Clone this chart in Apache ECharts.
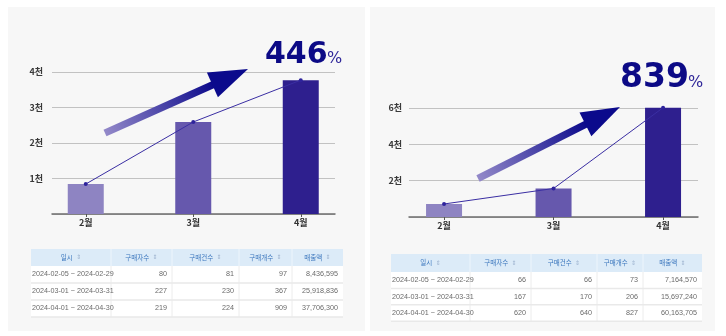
<!DOCTYPE html>
<html>
<head>
<meta charset="utf-8">
<script src="https://cdn.jsdelivr.net/npm/echarts@6/dist/echarts.min.js"></script>
<style>
  html, body { margin: 0; padding: 0; background: #ffffff; }
  #c { width: 726px; height: 336px; }
</style>
</head>
<body>
<div id="c"></div>
<script>
// ---- data ----
const months = ['2월', '3월', '4월'];
const periods = ['2024-02-05 ~ 2024-02-29', '2024-03-01 ~ 2024-03-31', '2024-04-01 ~ 2024-04-30'];
const headers = ['일시', '구매자수', '구매건수', '구매개수', '매출액'];

// first store
const buyersA = [80, 227, 219];
const ordersA = [81, 230, 224];
const itemsA = [97, 367, 909];
const salesA = [8436595, 25918836, 37706300];
const growthA = '446';
const yMaxA = 4000, yStepA = 1000;

// second store
const buyersB = [66, 167, 620];
const ordersB = [66, 170, 640];
const itemsB = [73, 206, 827];
const salesB = [7164570, 15697240, 60163705];
const growthB = '839';
const yMaxB = 6000, yStepB = 2000;

const barColors = ['#8e84c2', '#6658ad', '#2e1f8e'];

// ---- helpers ----
const KR = '"Noto Sans CJK KR", "Noto Sans", sans-serif';
const toManwon = arr => arr.map(v => v / 10000);
const fmt = v => v.toLocaleString('en-US');

function arrow(tail, tip, shaftHalf, headLen, headHalf) {
  const dx = tip[0] - tail[0], dy = tip[1] - tail[1];
  const len = Math.hypot(dx, dy);
  const u = [dx / len, dy / len], n = [-u[1], u[0]];
  const b = [tip[0] - headLen * u[0], tip[1] - headLen * u[1]];
  const be = [b[0] + 2 * u[0], b[1] + 2 * u[1]];
  const p = (o, k, m) => [o[0] + k * m[0], o[1] + k * m[1]];
  return [
    {
      type: 'polygon', z: 10,
      shape: { points: [p(tail, shaftHalf, n), p(be, shaftHalf, n), p(be, -shaftHalf, n), p(tail, -shaftHalf, n)] },
      style: {
        fill: new echarts.graphic.LinearGradient(tail[0], tail[1], b[0], b[1], [
          { offset: 0, color: '#9389c9' },
          { offset: 1, color: '#0d0b8c' }
        ], true)
      }
    },
    {
      type: 'polygon', z: 10,
      shape: { points: [tip, p(b, headHalf, n), p(b, -headHalf, n)] },
      style: { fill: '#0b0a8c' }
    }
  ];
}

function table(cols, top, headH, rowH, rows) {
  const els = [];
  const left = cols[0], right = cols[cols.length - 1];
  els.push({ type: 'rect', z: 5, shape: { x: left, y: top, width: right - left, height: headH }, style: { fill: '#dcebf8' } });
  els.push({ type: 'rect', z: 5, shape: { x: left, y: top + headH, width: right - left, height: rowH * rows.length }, style: { fill: '#ffffff' } });
  for (let i = 1; i < cols.length - 1; i++) {
    els.push({ type: 'line', z: 6, shape: { x1: cols[i], y1: top, x2: cols[i], y2: top + headH }, style: { stroke: '#edf5fc', lineWidth: 1 } });
    els.push({ type: 'line', z: 6, shape: { x1: cols[i], y1: top + headH, x2: cols[i], y2: top + headH + rowH * rows.length }, style: { stroke: '#ececec', lineWidth: 1 } });
  }
  for (let r = 1; r <= rows.length; r++) {
    const y = top + headH + rowH * r;
    els.push({ type: 'line', z: 6, shape: { x1: left, y1: y, x2: right, y2: y }, style: { stroke: '#e9e9e9', lineWidth: 1.5 } });
  }
  headers.forEach((h, i) => {
    els.push({
      type: 'text', z: 7,
      x: (cols[i] + cols[i + 1]) / 2, y: top + headH / 2,
      style: {
        text: '{t|' + h + '} {s|⇕}',
        align: 'center', verticalAlign: 'middle',
        rich: {
          t: { fontFamily: KR, fontSize: 6.5, fill: '#3a76bd' },
          s: { fontFamily: 'DejaVu Sans', fontSize: 6, fill: '#9db3cf' }
        }
      }
    });
  });
  rows.forEach((row, r) => {
    const cy = top + headH + rowH * r + rowH / 2;
    row.forEach((cell, i) => {
      const isFirst = i === 0;
      els.push({
        type: 'text', z: 7,
        x: isFirst ? cols[0] + 1 : cols[i + 1] - 5, y: cy,
        style: {
          text: cell,
          align: isFirst ? 'left' : 'right', verticalAlign: 'middle',
          fontFamily: '"Liberation Sans", Arial, sans-serif', fontSize: 7.2, fill: '#6a6a6a'
        }
      });
    });
  });
  return els;
}

function tableRows(b, o, it, s) {
  return periods.map((p, i) => [p, fmt(b[i]), fmt(o[i]), fmt(it[i]), fmt(s[i])]);
}

// big growth figure with a smaller percent sign sharing its baseline
function growthText(x, baseline, value, size, pctX) {
  return [
    {
      type: 'text', z: 12, x: x, y: baseline + 0.2 * size,
      style: {
        text: value, align: 'left', verticalAlign: 'bottom',
        fontFamily: '"DejaVu Sans", sans-serif', fontWeight: 'bold', fontSize: size, fill: '#0c0a86'
      }
    },
    {
      type: 'text', z: 12, x: pctX, y: baseline + 0.2 * 16,
      style: {
        text: '%', align: 'left', verticalAlign: 'bottom',
        fontFamily: '"DejaVu Sans", sans-serif', fontSize: 16, fill: '#2f2699'
      }
    }
  ];
}

// ---- axes ----
const yLabel = v => (v === 0 ? '' : v / 1000 + '천');
const yLabelStyle = { fontFamily: KR, fontSize: 9, color: '#3a3a3a', fontWeight: 'bold' };

function valueAxis(gridIndex, max, step, show, margin) {
  return {
    type: 'value', gridIndex, min: 0, max, interval: step,
    show: true,
    axisLine: { show: false }, axisTick: { show: false },
    axisLabel: { show: show, formatter: yLabel, margin: margin, ...yLabelStyle },
    splitLine: { show: show, lineStyle: { color: '#c2c2c2', width: 1.2 } }
  };
}

function frameAxis(gridIndex) {
  return {
    type: 'category', gridIndex, data: months,
    axisLine: { show: true, lineStyle: { color: '#6e6e6e', width: 1.5 } },
    axisTick: { show: false }, axisLabel: { show: false }, splitLine: { show: false }
  };
}

function monthAxis(gridIndex) {
  return {
    type: 'category', gridIndex, data: months, boundaryGap: true,
    axisLine: { show: false },
    axisTick: { show: true, alignWithLabel: true, length: 3, lineStyle: { color: '#555' } },
    axisLabel: { fontFamily: KR, fontSize: 9, color: '#333', fontWeight: 'bold', margin: 4 }
  };
}

function barSeries(xi, yi, values) {
  return {
    type: 'bar', xAxisIndex: xi, yAxisIndex: yi, barWidth: 36, clip: false,
    data: values.map((v, i) => ({ value: v, itemStyle: { color: barColors[i] } }))
  };
}

function lineSeries(xi, yi, values) {
  return {
    type: 'line', xAxisIndex: xi, yAxisIndex: yi, z: 5, clip: false,
    data: values, symbol: 'circle', symbolSize: 4, showSymbol: true,
    lineStyle: { color: '#3a2ea3', width: 1 }, itemStyle: { color: '#2e239c' }
  };
}

const barsA = toManwon(salesA);
const barsB = toManwon(salesB);

const option = {
  animation: false,
  backgroundColor: '#ffffff',
  grid: [
    { left: 52, right: 726 - 335, top: 72, bottom: 336 - 214 },
    { left: 32, width: 322.5, top: 72, bottom: 336 - 214 },
    { left: 409, right: 726 - 698, top: 108, bottom: 336 - 217 },
    { left: 389.3, width: 328.5, top: 108, bottom: 336 - 217 }
  ],
  xAxis: [frameAxis(0), monthAxis(1), frameAxis(2), monthAxis(3)],
  yAxis: [
    valueAxis(0, yMaxA, yStepA, true, 9),
    { ...valueAxis(1, yMaxA, yStepA, false, 0), show: false },
    valueAxis(2, yMaxB, yStepB, true, 7),
    { ...valueAxis(3, yMaxB, yStepB, false, 0), show: false }
  ],
  series: [
    barSeries(1, 1, barsA), lineSeries(1, 1, barsA),
    barSeries(3, 3, barsB), lineSeries(3, 3, barsB)
  ],
  graphic: [
    { type: 'rect', z: -10, shape: { x: 8, y: 7, width: 357, height: 324 }, style: { fill: '#f7f7f7' } },
    { type: 'rect', z: -10, shape: { x: 370, y: 7, width: 345, height: 324 }, style: { fill: '#f7f7f7' } },
    ...arrow([105, 133], [248, 69], 3.6, 39, 13.5),
    ...arrow([478, 178.5], [620, 107], 3.6, 38.7, 13.2),
    ...growthText(265, 64, growthA, 30, 327),
    ...growthText(620, 88, growthB, 33, 688),
    ...table([31, 111, 172, 239, 292, 343], 249, 17, 17, tableRows(buyersA, ordersA, itemsA, salesA)),
    ...table([391, 470, 531, 597, 643, 702], 254, 18, 16.4, tableRows(buyersB, ordersB, itemsB, salesB))
  ]
};

const chart = echarts.init(document.getElementById('c'), null, { renderer: 'canvas' });
chart.setOption(option);
</script>
</body>
</html>
